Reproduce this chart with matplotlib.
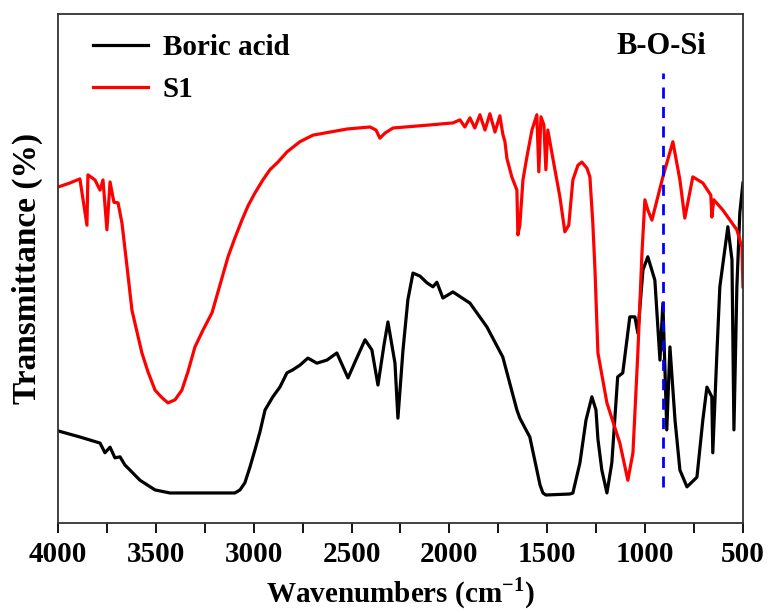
import matplotlib
matplotlib.use("Agg")
import matplotlib.pyplot as plt
from matplotlib.ticker import MultipleLocator

# FTIR spectra (wavenumber in cm-1, transmittance in arb. units)
wn_boric = [4000, 3888, 3785, 3760, 3734, 3709, 3683, 3658, 3632, 3581, 3504, 3428,
            3275, 3096, 3070, 3045, 3019, 2994, 2968, 2942, 2902, 2866, 2830, 2800,
            2764, 2723, 2677, 2626, 2575, 2518, 2478, 2431, 2396, 2365, 2334, 2314,
            2278, 2263, 2237, 2212, 2186, 2150, 2115, 2084, 2064, 2033, 1982, 1895,
            1808, 1727, 1655, 1640, 1614, 1589, 1553, 1537, 1522, 1507, 1384, 1369,
            1333, 1302, 1272, 1251, 1241, 1221, 1195, 1170, 1140, 1114, 1078, 1052,
            1037, 1011, 986, 950, 924, 909, 889, 873, 847, 822, 786, 735, 705, 684,
            659, 654, 633, 618, 577, 556, 546, 531, 516, 500]
t_boric = [18.1, 16.9, 15.7, 13.8, 14.9, 12.8, 13.0, 11.4, 10.4, 8.4, 6.5, 5.9,
           5.9, 5.9, 6.5, 7.9, 11.0, 14.3, 17.9, 22.2, 24.8, 26.7, 29.5, 30.1,
           31.0, 32.4, 31.4, 32.0, 33.4, 28.5, 32.0, 36.0, 34.0, 27.1, 35.0, 39.5,
           31.4, 20.6, 34.0, 43.9, 49.1, 48.5, 47.2, 46.4, 47.3, 44.2, 45.4, 43.2,
           38.5, 32.6, 22.2, 20.6, 18.7, 16.9, 10.4, 7.5, 5.9, 5.5, 5.7, 5.9,
           11.8, 20.2, 24.8, 22.2, 16.5, 10.4, 5.9, 11.8, 28.7, 29.5, 40.5, 40.5,
           37.3, 49.7, 52.3, 47.7, 32.0, 43.2, 18.3, 34.6, 20.2, 10.4, 7.1, 9.0,
           20.2, 26.7, 24.8, 13.8, 33.4, 46.4, 58.2, 51.7, 18.3, 46.4, 60.9, 66.8]

wn_s1 = [4000, 3939, 3888, 3852, 3847, 3811, 3785, 3770, 3750, 3734, 3714, 3693,
         3673, 3647, 3622, 3596, 3571, 3540, 3504, 3468, 3438, 3402, 3367, 3336,
         3300, 3259, 3213, 3172, 3131, 3096, 3060, 3029, 2994, 2953, 2917, 2876,
         2830, 2764, 2697, 2523, 2406, 2375, 2355, 2329, 2288, 2099, 1982, 1946,
         1921, 1895, 1870, 1844, 1818, 1793, 1767, 1742, 1727, 1716, 1706, 1681,
         1655, 1650, 1640, 1624, 1604, 1578, 1553, 1543, 1532, 1517, 1507, 1497,
         1471, 1435, 1410, 1390, 1369, 1343, 1323, 1297, 1282, 1267, 1256, 1241,
         1195, 1129, 1088, 1062, 1037, 1016, 1001, 986, 965, 909, 858, 822, 797,
         756, 705, 664, 659, 649, 603, 531, 505, 500]
t_s1 = [66.0, 66.8, 67.6, 58.5, 68.4, 67.4, 65.4, 67.4, 57.6, 67.0, 63.0, 62.9,
        58.9, 50.3, 41.8, 37.5, 33.4, 29.7, 26.1, 24.6, 23.6, 24.2, 26.1, 29.7,
        34.6, 37.9, 41.3, 46.8, 52.3, 56.0, 59.5, 62.3, 64.8, 67.4, 69.4, 70.9,
        72.9, 74.9, 76.2, 77.4, 77.8, 77.2, 75.6, 76.6, 77.6, 78.2, 78.6, 79.2,
        77.8, 79.6, 77.6, 80.2, 77.2, 80.4, 76.8, 80.0, 76.4, 74.9, 71.6, 68.0,
        65.4, 56.6, 58.5, 67.4, 71.9, 77.2, 80.2, 69.0, 79.8, 78.2, 69.4, 77.2,
        71.6, 64.0, 57.2, 58.5, 67.4, 70.3, 70.9, 69.7, 68.0, 58.9, 49.7, 33.4,
        23.6, 15.7, 8.4, 13.8, 33.4, 53.0, 63.5, 61.5, 59.5, 68.0, 74.9, 67.4, 59.9,
        68.0, 66.8, 64.4, 60.1, 63.5, 61.5, 57.6, 54.2, 46.4]

marker_wn = 909
marker_span = [7.1, 88.4]

plt.rcParams["font.family"] = ["Liberation Serif", "DejaVu Serif"]
plt.rcParams["font.weight"] = "bold"
plt.rcParams["mathtext.fontset"] = "custom"
plt.rcParams["mathtext.rm"] = "Liberation Serif:bold"
plt.rcParams["mathtext.bf"] = "Liberation Serif:bold"

fig = plt.figure(figsize=(7.69, 6.13), dpi=100)
ax = fig.add_axes([0.0754, 0.1468, 0.8907, 0.8304])

ax.plot(wn_boric, t_boric, color="black", lw=2.3, label="Boric acid")
ax.plot(wn_s1, t_s1, color="#ff0000", lw=2.3, label="S1")
ax.plot([marker_wn, marker_wn], marker_span, color="#0000ff", lw=2.0,
        ls=(0, (4.0, 3.0)))
ax.text(marker_wn + 10, 90.8, "B-O-Si", ha="center", va="bottom",
        fontsize=22, fontweight="bold")

ax.set_xlim(4000, 500)
ax.set_ylim(0, 100)
ax.xaxis.set_major_locator(MultipleLocator(500))
ax.xaxis.set_minor_locator(MultipleLocator(250))
ax.tick_params(axis="x", which="both", direction="out", length=7, width=1.3,
               labelsize=21, pad=6)
ax.set_yticks([])
for sp in ax.spines.values():
    sp.set_linewidth(1.3)
    sp.set_color("#333333")

ax.set_xlabel("Wavenumbers (cm$^{\\mathbf{-1}}$)", fontsize=21, fontweight="bold",
              labelpad=5)
ax.set_ylabel("Transmittance (%)", fontsize=24, fontweight="bold", labelpad=11)

ax.legend(loc="upper left", bbox_to_anchor=(0.051, 0.961), frameon=False,
          handlelength=1.9, handletextpad=0.5, borderaxespad=0, borderpad=0,
          labelspacing=0.52, prop={"weight": "bold", "size": 21})

fig.savefig("out.png", dpi=100)
